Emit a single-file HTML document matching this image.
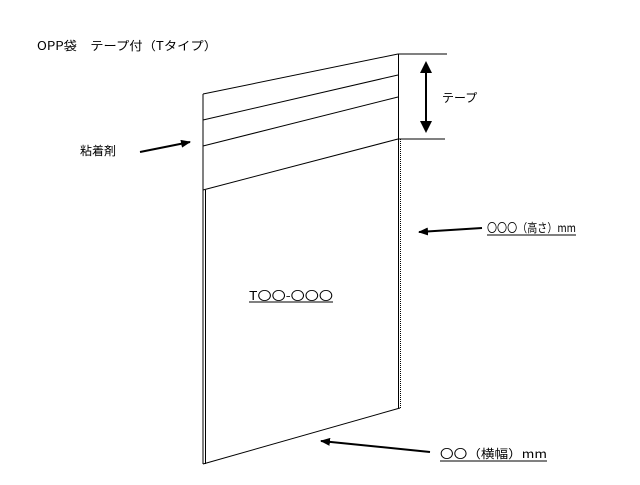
<!DOCTYPE html>
<html><head><meta charset="utf-8"><style>
body{margin:0;background:#fff;width:640px;height:480px;overflow:hidden}
svg text{font-family:"Noto Sans CJK JP","Liberation Sans",sans-serif;font-size:12px;fill:#000}
</style></head><body>
<svg width="640" height="480" viewBox="0 0 640 480" xmlns="http://www.w3.org/2000/svg">
<defs><marker id="a" markerWidth="10" markerHeight="8" refX="9" refY="4" orient="auto" markerUnits="userSpaceOnUse"><path d="M0,0 L10,4 L0,8 Z" fill="#000"/></marker></defs>
<text x="37" y="50" textLength="180" lengthAdjust="spacingAndGlyphs">OPP袋　テープ付（Tタイプ）</text>
<g stroke="#000" stroke-width="1" fill="none">
<line x1="203" y1="94" x2="398" y2="54"/>
<line x1="203" y1="120" x2="398" y2="75"/>
<line x1="203" y1="146" x2="398" y2="97"/>
<line x1="203" y1="190" x2="398" y2="139"/>
<line x1="203" y1="94" x2="203" y2="464"/>
<line x1="205.5" y1="190" x2="205.5" y2="464"/>
<line x1="398.5" y1="54" x2="398.5" y2="408"/>
<line x1="400.5" y1="139" x2="400.5" y2="408" stroke-dasharray="1,1"/>
<line x1="203" y1="464" x2="400" y2="408"/>
<line x1="398" y1="54" x2="447" y2="54"/>
<line x1="398" y1="139" x2="445" y2="139"/>
</g>
<g stroke="#000" stroke-width="2">
<line x1="426" y1="70" x2="426" y2="124"/>
<line x1="140" y1="152" x2="190" y2="142" marker-end="url(#a)"/>
<line x1="482" y1="228" x2="419" y2="232" marker-end="url(#a)"/>
<line x1="430" y1="452" x2="321" y2="441" marker-end="url(#a)"/>
</g>
<path d="M426,61 L420,73 L432,73 Z M426,133 L420,121 L432,121 Z" fill="#000"/>
<text x="442" y="102">テープ</text>
<text x="80" y="155">粘着剤</text>
<text x="487" y="232" textLength="89" lengthAdjust="spacingAndGlyphs">〇〇〇（高さ）mm</text>
<line x1="487" y1="235" x2="576" y2="235" stroke="#000"/>
<text x="249" y="300" textLength="84" lengthAdjust="spacingAndGlyphs">T〇〇-〇〇〇</text>
<line x1="249" y1="302" x2="333" y2="302" stroke="#000"/>
<text x="440" y="458" textLength="107" lengthAdjust="spacingAndGlyphs">〇〇（横幅）mm</text>
<line x1="440" y1="461" x2="547" y2="461" stroke="#000"/>
</svg>
</body></html>
